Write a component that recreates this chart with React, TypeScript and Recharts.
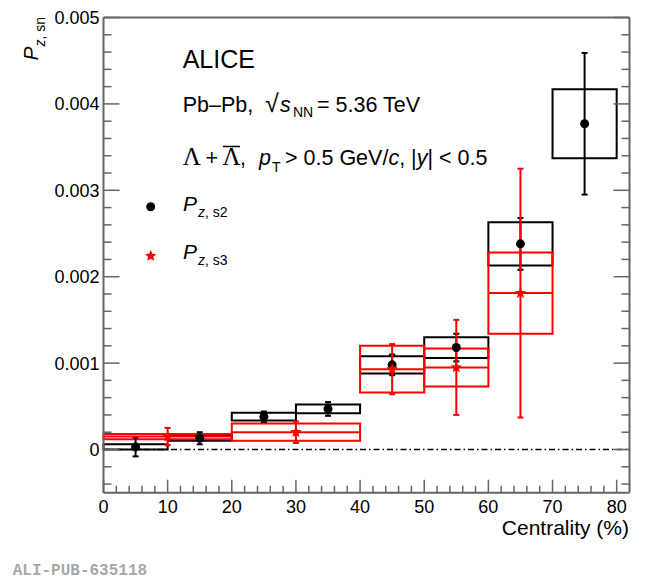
import {
  ComposedChart,
  XAxis,
  YAxis,
  Scatter,
  ErrorBar,
  ReferenceArea,
  ReferenceLine,
} from "recharts";

// P_z,s2 (black) - centrality bins
const s2BinLow = [0, 10, 20, 30, 40, 50, 60, 70];
const s2BinHigh = [10, 20, 30, 40, 50, 60, 70, 80];
const s2Value = [0.00003, 0.00013, 0.00038, 0.00047, 0.00098, 0.00118, 0.00238, 0.00377];
const s2Stat = [0.00011, 0.00007, 0.00006, 0.00008, 0.00012, 0.00016, 0.0003, 0.00082];
const s2Syst = [0.00003, 0.00003, 0.000045, 0.00005, 0.0001, 0.00012, 0.00025, 0.0004];

// P_z,s3 (red)
const s3BinLow = [0, 20, 40, 50, 60];
const s3BinHigh = [20, 40, 50, 60, 70];
const s3Value = [0.00015, 0.0002, 0.00093, 0.00095, 0.00181];
const s3Stat = [0.0001, 0.000125, 0.00029, 0.00055, 0.00144];
const s3Syst = [0.00003, 0.0001, 0.00027, 0.00022, 0.00047];

const xMajorTicks = [0, 10, 20, 30, 40, 50, 60, 70, 80];
const xTickLabels = ["0", "10", "20", "30", "40", "50", "60", "70", "80"];
const xAllTicks = [
  0, 2, 4, 6, 8, 10, 12, 14, 16, 18, 20, 22, 24, 26, 28, 30, 32, 34, 36, 38, 40,
  42, 44, 46, 48, 50, 52, 54, 56, 58, 60, 62, 64, 66, 68, 70, 72, 74, 76, 78, 80,
];
const yMajorTicks = [0, 0.001, 0.002, 0.003, 0.004, 0.005];
const yTickLabels = ["0", "0.001", "0.002", "0.003", "0.004", "0.005"];
const yAllTicks = [
  -0.0004, -0.0002, 0, 0.0002, 0.0004, 0.0006, 0.0008, 0.001, 0.0012, 0.0014,
  0.0016, 0.0018, 0.002, 0.0022, 0.0024, 0.0026, 0.0028, 0.003, 0.0032, 0.0034,
  0.0036, 0.0038, 0.004, 0.0042, 0.0044, 0.0046, 0.0048, 0.005,
];

const axisColor = "#666";
const red = "#ff0000";
const font = "'Liberation Sans', Arial, sans-serif";

const s2Points = s2Value.map((v, i) => ({
  x: (s2BinLow[i] + s2BinHigh[i]) / 2,
  y: v,
  stat: s2Stat[i],
}));

const s3Points = s3Value.map((v, i) => ({
  x: (s3BinLow[i] + s3BinHigh[i]) / 2,
  y: v,
  stat: s3Stat[i],
  xerr: (s3BinHigh[i] - s3BinLow[i]) / 2,
}));

const majorIndex = (v: number, majors: number[]) =>
  majors.findIndex((m) => Math.abs(m - v) < 1e-9);

const makeTick = (side: "bottom" | "top" | "left" | "right") => (props: any) => {
  const { x, y, payload } = props;
  const v = payload.value;
  const isX = side === "bottom" || side === "top";
  const idx = majorIndex(v, isX ? xMajorTicks : yMajorTicks);
  const major = idx >= 0;
  const len = isX ? (major ? 13 : 7) : major ? 16 : 8;
  let x2 = x;
  let y2 = y;
  if (side === "bottom") y2 = y - len;
  if (side === "top") y2 = y + len;
  if (side === "left") x2 = x + len;
  if (side === "right") x2 = x - len;
  return (
    <g>
      <line x1={x} y1={y} x2={x2} y2={y2} stroke={axisColor} strokeWidth={1.5} />
      {major && side === "bottom" && (
        <text x={x} y={y + 20} textAnchor="middle" fontSize={18} fontFamily={font} fill="#000">
          {xTickLabels[idx]}
        </text>
      )}
      {major && side === "left" && (
        <text x={x - 4} y={y + 6.5} textAnchor="end" fontSize={18} fontFamily={font} fill="#000">
          {yTickLabels[idx]}
        </text>
      )}
    </g>
  );
};

const Star = (props: any) => {
  const { cx, cy } = props;
  const pts: string[] = [];
  for (let k = 0; k < 10; k++) {
    const r = k % 2 === 0 ? 6 : 2.7;
    const a = -Math.PI / 2 + (k * Math.PI) / 5;
    pts.push(`${cx + r * Math.cos(a)},${cy + r * Math.sin(a)}`);
  }
  return <polygon points={pts.join(" ")} fill={red} />;
};

const Dot = (props: any) => <circle cx={props.cx} cy={props.cy} r={4.5} fill="#000" />;

const axisLine = { stroke: axisColor, strokeWidth: 2 };

export default function App() {
  return (
    <div style={{ position: "absolute", left: 0, top: 0, width: 650, height: 581, background: "#fff" }}>
      <ComposedChart
        width={650}
        height={581}
        margin={{ top: 16.5, right: 19.5, bottom: 87.3, left: 102.5 }}
      >
        <XAxis
          xAxisId="b"
          type="number"
          dataKey="x"
          domain={[0, 82]}
          allowDataOverflow
          ticks={xAllTicks}
          interval={0}
          height={1}
          tickSize={0}
          tickMargin={0}
          tickLine={false}
          axisLine={axisLine}
          tick={makeTick("bottom")}
        />
        <XAxis
          xAxisId="t"
          orientation="top"
          type="number"
          domain={[0, 82]}
          allowDataOverflow
          ticks={xAllTicks}
          interval={0}
          height={1}
          tickSize={0}
          tickMargin={0}
          tickLine={false}
          axisLine={axisLine}
          tick={makeTick("top")}
        />
        <YAxis
          yAxisId="l"
          type="number"
          domain={[-0.0005, 0.005]}
          allowDataOverflow
          ticks={yAllTicks}
          interval={0}
          width={1}
          tickSize={0}
          tickMargin={0}
          tickLine={false}
          axisLine={axisLine}
          tick={makeTick("left")}
        />
        <YAxis
          yAxisId="r"
          orientation="right"
          type="number"
          domain={[-0.0005, 0.005]}
          allowDataOverflow
          ticks={yAllTicks}
          interval={0}
          width={1}
          tickSize={0}
          tickMargin={0}
          tickLine={false}
          axisLine={axisLine}
          tick={makeTick("right")}
        />

        <ReferenceLine
          xAxisId="b"
          yAxisId="l"
          y={0}
          stroke="#000"
          strokeWidth={1.5}
          strokeDasharray="6 3 1.5 3"
        />

        {s2Value.map((v, i) => (
          <ReferenceArea
            key={`s2box${i}`}
            xAxisId="b"
            yAxisId="l"
            x1={s2BinLow[i]}
            x2={s2BinHigh[i]}
            y1={v - s2Syst[i]}
            y2={v + s2Syst[i]}
            fill="none"
            fillOpacity={0}
            stroke="#000"
            strokeWidth={2}
          />
        ))}

        <Scatter
          xAxisId="b"
          yAxisId="l"
          data={s2Points}
          dataKey="y"
          shape={Dot}
          isAnimationActive={false}
        >
          <ErrorBar dataKey="stat" direction="y" width={3} stroke="#000" strokeWidth={2} />
        </Scatter>

        {s3Value.map((v, i) => (
          <ReferenceArea
            key={`s3box${i}`}
            xAxisId="b"
            yAxisId="l"
            x1={s3BinLow[i]}
            x2={s3BinHigh[i]}
            y1={v - s3Syst[i]}
            y2={v + s3Syst[i]}
            fill="none"
            fillOpacity={0}
            stroke={red}
            strokeWidth={2}
          />
        ))}

        <Scatter
          xAxisId="b"
          yAxisId="l"
          data={s3Points}
          dataKey="y"
          shape={Star}
          isAnimationActive={false}
        >
          <ErrorBar dataKey="xerr" direction="x" width={0} stroke={red} strokeWidth={2} />
          <ErrorBar dataKey="stat" direction="y" width={3} stroke={red} strokeWidth={2} />
        </Scatter>
      </ComposedChart>

      <svg
        width={650}
        height={581}
        style={{ position: "absolute", left: 0, top: 0, pointerEvents: "none" }}
        fontFamily={font}
      >
        <text x={182.7} y={68.3} fontSize={25}>ALICE</text>

        <text y={111.7} fontSize={21.5}>
          <tspan x={182.7}>Pb–Pb,</tspan>
          <tspan x={265} fontSize={25}>√</tspan>
          <tspan x={280} fontStyle="italic">s</tspan>
          <tspan x={293} dy={5} fontSize={14}>NN</tspan>
          <tspan x={317} dy={-5}>= 5.36 TeV</tspan>
        </text>

        <text y={165} fontSize={21.5}>
          <tspan x={182.7} fontFamily="'Liberation Serif', serif" fontSize={25}>Λ</tspan>
          <tspan x={205.5}>+</tspan>
          <tspan x={222.5} fontFamily="'Liberation Serif', serif" fontSize={25}>Λ</tspan>
          <tspan x={240}>,</tspan>
          <tspan x={259} fontStyle="italic">p</tspan>
          <tspan x={272} dy={6.7} fontSize={14}>T</tspan>
          <tspan x={285} dy={-6.7}>{"> 0.5 GeV/"}</tspan>
          <tspan fontStyle="italic">c</tspan>
          <tspan>{", |"}</tspan>
          <tspan fontStyle="italic">y</tspan>
          <tspan>{"| < 0.5"}</tspan>
        </text>
        <line x1={223} y1={146.5} x2={240} y2={146.5} stroke="#000" strokeWidth={1.5} />

        <circle cx={150.7} cy={206.7} r={4.5} fill="#000" />
        <text y={210.5} fontSize={21}>
          <tspan x={183} fontStyle="italic">P</tspan>
          <tspan x={198} dy={6.5} fontSize={14} fontStyle="italic">z</tspan>
          <tspan fontSize={14}>, s2</tspan>
        </text>

        <Star cx={150.7} cy={256} />
        <text y={258.8} fontSize={21}>
          <tspan x={183} fontStyle="italic">P</tspan>
          <tspan x={198} dy={6.5} fontSize={14} fontStyle="italic">z</tspan>
          <tspan fontSize={14}>, s3</tspan>
        </text>

        <text transform="translate(38,17) rotate(-90)" textAnchor="end" fontSize={21}>
          <tspan fontStyle="italic">P</tspan>
          <tspan dy={6.5} fontSize={14} fontStyle="italic">z</tspan>
          <tspan fontSize={14}>, sn</tspan>
        </text>

        <text x={629} y={535} textAnchor="end" fontSize={21}>Centrality (%)</text>

        <text
          x={12.7}
          y={575}
          fontSize={16}
          fontWeight="bold"
          fontFamily="'Liberation Mono', monospace"
          fill="#a8a8a8"
        >
          ALI-PUB-635118
        </text>
      </svg>
    </div>
  );
}
